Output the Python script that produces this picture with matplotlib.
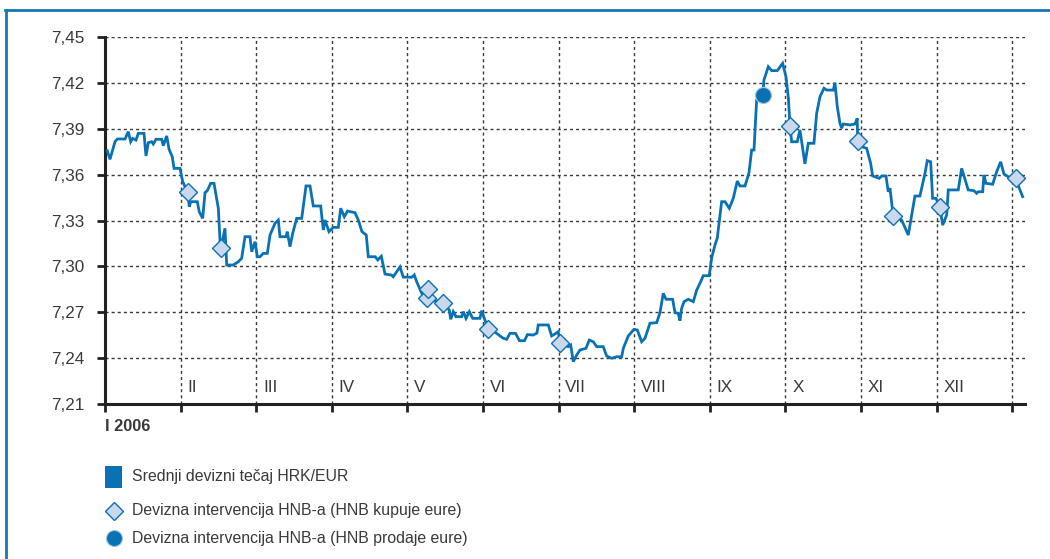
import matplotlib
matplotlib.use("Agg")
import matplotlib.pyplot as plt
from matplotlib.lines import Line2D
from matplotlib.patches import Rectangle
import matplotlib.transforms as mtransforms

# ---------------- data ----------------
# x in months since 1 Jan 2006 (0 = start of I), y = HRK/EUR
rate_x = [0.030, 0.066, 0.132, 0.163, 0.265, 0.308, 0.340, 0.366, 0.410, 0.440,
          0.516, 0.542, 0.573, 0.618, 0.639, 0.675, 0.750, 0.771, 0.816, 0.847,
          0.890, 0.913, 0.992, 1.028, 1.094, 1.115, 1.134, 1.221, 1.247, 1.292,
          1.323, 1.353, 1.398, 1.442, 1.499, 1.521, 1.534, 1.587, 1.610, 1.697,
          1.763, 1.808, 1.852, 1.918, 1.940, 1.984, 2.015, 2.050, 2.094, 2.147,
          2.183, 2.249, 2.292, 2.315, 2.394, 2.411, 2.447, 2.483, 2.536, 2.602,
          2.659, 2.712, 2.755, 2.853, 2.888, 2.910, 2.963, 3.020, 3.086, 3.118,
          3.165, 3.208, 3.307, 3.351, 3.399, 3.456, 3.483, 3.575, 3.608, 3.655,
          3.704, 3.792, 3.813, 3.902, 3.946, 4.057, 4.091, 4.123, 4.180, 4.220,
          4.300, 4.400, 4.475, 4.554, 4.573, 4.607, 4.643, 4.718, 4.740, 4.775,
          4.819, 4.864, 4.960, 4.983, 5.026, 5.070, 5.119, 5.225, 5.268, 5.313,
          5.357, 5.430, 5.483, 5.549, 5.589, 5.665, 5.714, 5.731, 5.864, 5.908,
          5.952, 5.996, 6.019, 6.128, 6.160, 6.195, 6.239, 6.283, 6.362, 6.406,
          6.459, 6.504, 6.591, 6.636, 6.702, 6.769, 6.835, 6.856, 6.922, 6.997,
          7.041, 7.099, 7.143, 7.209, 7.298, 7.341, 7.385, 7.421, 7.509, 7.540,
          7.583, 7.606, 7.628, 7.659, 7.716, 7.782, 7.827, 7.880, 7.914, 7.993,
          8.025, 8.069, 8.099, 8.157, 8.201, 8.258, 8.311, 8.364, 8.399, 8.466,
          8.519, 8.554, 8.585, 8.620, 8.700, 8.717, 8.774, 8.819, 8.893, 8.964,
          9.008, 9.040, 9.061, 9.083, 9.157, 9.193, 9.259, 9.303, 9.378, 9.414,
          9.458, 9.511, 9.546, 9.634, 9.656, 9.687, 9.722, 9.745, 9.766, 9.854,
          9.921, 9.951, 9.956, 10.009, 10.075, 10.128, 10.155, 10.242, 10.274, 10.331,
          10.361, 10.384, 10.427, 10.538, 10.626, 10.714, 10.780, 10.847, 10.877, 10.922,
          10.948, 10.992, 11.045, 11.081, 11.134, 11.155, 11.287, 11.332, 11.419, 11.495,
          11.530, 11.551, 11.610, 11.627, 11.653, 11.742, 11.795, 11.848, 11.892, 11.948,
          12.050, 12.094, 12.139]
rate_y = [7.3756, 7.3700, 7.3815, 7.3833, 7.3833, 7.3881, 7.3815, 7.3837, 7.3826, 7.3870,
          7.3870, 7.3722, 7.3809, 7.3815, 7.3800, 7.3831, 7.3831, 7.3789, 7.3853, 7.3766,
          7.3717, 7.3641, 7.3641, 7.3554, 7.3484, 7.3390, 7.3423, 7.3423, 7.3357, 7.3314,
          7.3482, 7.3495, 7.3543, 7.3543, 7.3380, 7.3172, 7.3118, 7.3249, 7.3009, 7.3009,
          7.3030, 7.3053, 7.3194, 7.3194, 7.3096, 7.3161, 7.3063, 7.3063, 7.3085, 7.3085,
          7.3205, 7.3282, 7.3303, 7.3194, 7.3194, 7.3227, 7.3129, 7.3216, 7.3314, 7.3314,
          7.3526, 7.3526, 7.3395, 7.3395, 7.3238, 7.3303, 7.3227, 7.3255, 7.3255, 7.3380,
          7.3325, 7.3362, 7.3351, 7.3303, 7.3227, 7.3205, 7.3063, 7.3063, 7.3042, 7.3066,
          7.2950, 7.2943, 7.2932, 7.2996, 7.2930, 7.2929, 7.2944, 7.2900, 7.2835, 7.2790,
          7.2775, 7.2775, 7.2758, 7.2715, 7.2654, 7.2704, 7.2671, 7.2671, 7.2704, 7.2660,
          7.2704, 7.2660, 7.2660, 7.2710, 7.2649, 7.2590, 7.2584, 7.2545, 7.2530, 7.2523,
          7.2562, 7.2562, 7.2514, 7.2514, 7.2554, 7.2551, 7.2564, 7.2617, 7.2617, 7.2545,
          7.2558, 7.2573, 7.2500, 7.2475, 7.2486, 7.2377, 7.2420, 7.2453, 7.2464, 7.2518,
          7.2507, 7.2475, 7.2475, 7.2414, 7.2399, 7.2409, 7.2409, 7.2464, 7.2545, 7.2588,
          7.2584, 7.2507, 7.2530, 7.2628, 7.2632, 7.2697, 7.2824, 7.2785, 7.2785, 7.2697,
          7.2693, 7.2645, 7.2726, 7.2769, 7.2785, 7.2769, 7.2845, 7.2900, 7.2939, 7.2939,
          7.3055, 7.3140, 7.3184, 7.3423, 7.3423, 7.3380, 7.3445, 7.3558, 7.3526, 7.3526,
          7.3613, 7.3761, 7.3761, 7.4088, 7.4120, 7.4219, 7.4306, 7.4280, 7.4280, 7.4328,
          7.4240, 7.4100, 7.3920, 7.3815, 7.3815, 7.3892, 7.3670, 7.3805, 7.3805, 7.4001,
          7.4110, 7.4165, 7.4153, 7.4153, 7.4201, 7.4044, 7.3936, 7.3903, 7.3931, 7.3925,
          7.3931, 7.3968, 7.3822, 7.3783, 7.3772, 7.3674, 7.3591, 7.3576, 7.3591, 7.3591,
          7.3488, 7.3511, 7.3329, 7.3303, 7.3205, 7.3460, 7.3460, 7.3609, 7.3691, 7.3684,
          7.3445, 7.3445, 7.3386, 7.3270, 7.3336, 7.3500, 7.3500, 7.3641, 7.3500, 7.3495,
          7.3478, 7.3488, 7.3488, 7.3598, 7.3543, 7.3537, 7.3619, 7.3684, 7.3604, 7.3586,
          7.3576, 7.3511, 7.3456]

buy_x = [1.094, 1.534, 4.255, 4.276, 4.475, 5.070, 6.019, 9.061, 9.956, 10.427, 11.045, 12.050]
buy_y = [7.3484, 7.3118, 7.2791, 7.2850, 7.2758, 7.2590, 7.2500, 7.3920, 7.3822, 7.3329, 7.3386, 7.3576]
sell_x = [8.700]
sell_y = [7.4120]

month_labels = ["I 2006", "II", "III", "IV", "V", "VI", "VII", "VIII", "IX", "X", "XI", "XII"]
y_ticks = [7.21, 7.24, 7.27, 7.30, 7.33, 7.36, 7.39, 7.42, 7.45]
y_tick_labels = ["7,21", "7,24", "7,27", "7,30", "7,33", "7,36", "7,39", "7,42", "7,45"]
legend_labels = ["Srednji devizni tečaj HRK/EUR",
                 "Devizna intervencija HNB-a (HNB kupuje eure)",
                 "Devizna intervencija HNB-a (HNB prodaje eure)"]

# ---------------- style ----------------
plt.rcParams['font.family'] = ['Liberation Sans', 'DejaVu Sans']
BLUE = '#0a72b4'
LIGHT = '#c9d8ec'
TXT = '#3a3a3a'
W, H = 1050, 559

fig = plt.figure(figsize=(W / 100, H / 100), dpi=100)
ax = fig.add_axes([105 / W, 1 - 404 / H, (1025 - 105) / W, (404 - 37) / H])

ax.set_xlim(0, 12.17)
ax.set_ylim(7.21, 7.45)

# grid
for yv in y_ticks[1:]:
    ax.axhline(yv, color='#3a3a3a', lw=1.0, ls=(0, (2.2, 2.2)), zorder=1)
for m in range(1, 13):
    ax.axvline(m, color='#3a3a3a', lw=1.0, ls=(0, (2.2, 2.2)), zorder=1)

ax.plot(rate_x, rate_y, color=BLUE, lw=2.0, zorder=3, solid_joinstyle='miter')
ax.plot(buy_x, buy_y, ls='none', marker='D', ms=9.5, mfc=LIGHT, mec=BLUE, mew=1.0, zorder=4)
ax.plot(sell_x, sell_y, ls='none', marker='o', ms=11.5, mfc=BLUE, mec='#9ec3e2', mew=0.8, zorder=5)

for s in ['top', 'right']:
    ax.spines[s].set_visible(False)
for s in ['left', 'bottom']:
    ax.spines[s].set_color('#222222')
    ax.spines[s].set_linewidth(2.2)

ax.set_yticks(y_ticks)
ax.set_yticklabels(y_tick_labels)
ax.set_xticks(range(0, 13))
ax.set_xticklabels([])
ax.tick_params(axis='y', direction='out', length=6, width=2, color='#222222',
               labelsize=12.3, labelcolor=TXT, pad=9)
ax.tick_params(axis='x', direction='out', length=6, width=2, color='#222222')

trans = mtransforms.blended_transform_factory(ax.transData, ax.transAxes)
for i, lab in enumerate(month_labels):
    if i == 0:
        ax.text(0, -0.06, lab, transform=trans, ha='left', va='center',
                fontsize=11.8, fontweight='bold', color=TXT)
    else:
        ax.text(i + 0.09, 0.046, lab, transform=trans, ha='left', va='center',
                fontsize=12.3, color=TXT)

# overlay in pixel coordinates for frame and legend
ov = fig.add_axes([0, 0, 1, 1], zorder=-1)
ov.set_xlim(0, W)
ov.set_ylim(H, 0)
ov.axis('off')
ov.add_line(Line2D([6.3, 6.3], [9.5, H], color='#1677b8', lw=2.0))
ov.add_line(Line2D([5.3, W], [9.5, 9.5], color='#1677b8', lw=2.0))

ov.add_patch(Rectangle((105, 466), 17, 22, color=BLUE, lw=0))
ov.plot([113.5], [511], marker='D', ms=9.5, mfc=LIGHT, mec=BLUE, mew=1.0)
ov.plot([113.5], [538], marker='o', ms=11.5, mfc=BLUE, mec='#9ec3e2', mew=0.8)
for yy, lab in zip([477, 511, 538], legend_labels):
    ov.text(132, yy, lab, ha='left', va='center', fontsize=11.4, color=TXT)

fig.savefig('out.png', dpi=100)
